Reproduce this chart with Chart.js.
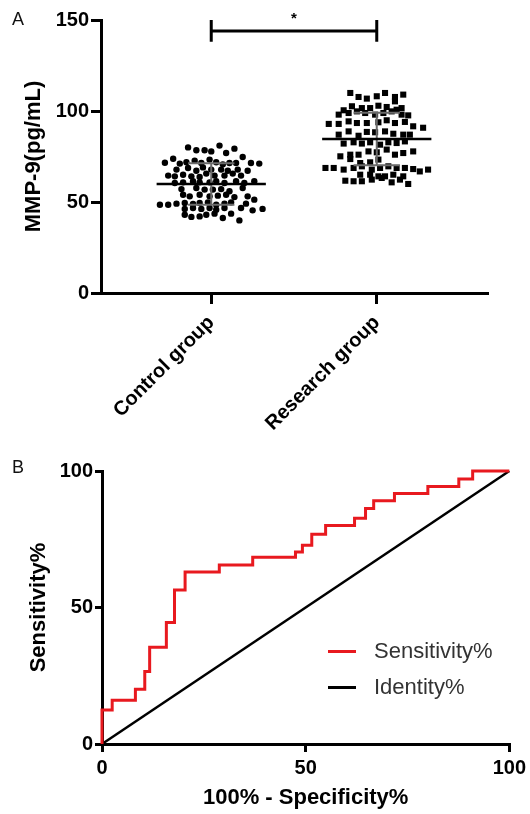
<!DOCTYPE html>
<html>
<head>
<meta charset="utf-8">
<script src="https://cdn.jsdelivr.net/npm/chart.js@4.4.1/dist/chart.umd.min.js"></script>
<style>
  html, body { margin: 0; padding: 0; background: #fff; }
  #wrap { position: relative; width: 530px; height: 814px; overflow: hidden; }
  .box { position: absolute; left: 0; width: 530px; }
  #boxA { top: 0; height: 450px; }
  #boxB { top: 450px; height: 364px; }
  .tag { position: absolute; font: 18px "Liberation Sans", Arial, sans-serif; color: #111; line-height: 1; }
  .leg { position: absolute; left: 328px; height: 26px; font: 22px "Liberation Sans", Arial, sans-serif; color: #333; }
  .leg i { position: absolute; left: 0; top: 12px; width: 28px; height: 3px; }
  .leg span { position: absolute; left: 46px; top: 0; line-height: 26px; white-space: nowrap; }
</style>
</head>
<body>
<div id="wrap">
  <div class="box" id="boxA"><canvas id="chartA"></canvas></div>
  <div class="box" id="boxB"><canvas id="chartB"></canvas></div>
  <div class="tag" style="left:12px;top:10px">A</div>
  <div class="tag" style="left:12px;top:458px">B</div>
  <div class="leg" style="top:638px"><i style="background:#e8191f"></i><span>Sensitivity%</span></div>
  <div class="leg" style="top:674px"><i style="background:#000"></i><span>Identity%</span></div>
</div>
<script>
// ---- panel A data: MMP-9 (pg/mL) per subject ----
var groupLabels = ['Control group', 'Research group'];
var yTicksA = [0, 50, 100, 150];

var controlValues = [
  80.0, 81.0, 79.3, 78.4, 78.4, 77.8, 76.9,
  73.8, 71.6, 71.1, 71.8, 72.7, 71.4, 73.3, 71.8, 70.7, 71.4, 71.4, 74.7, 71.4, 71.1,
  67.8, 68.7, 67.2, 69.0, 67.8, 67.8, 67.2, 67.8, 67.2,
  64.5, 64.1, 65.0, 64.1, 63.7, 65.6, 64.5, 64.5, 65.6, 64.5,
  60.4, 60.8, 61.4, 60.8, 60.8, 61.4, 60.4, 61.4, 60.4, 61.4,
  57.1, 57.7, 56.8, 56.8, 57.1, 55.9, 57.7,
  54.0, 53.1, 54.0, 53.1, 53.5, 54.0, 52.7, 53.1,
  48.5, 48.5, 49.1, 49.5, 48.9, 49.5, 49.8, 48.5, 49.1, 49.8, 49.1, 51.3,
  46.2, 46.7, 46.2, 46.7, 45.8, 46.7, 46.7, 45.4, 46.2,
  43.0, 41.8, 42.1, 43.0, 43.6, 41.2, 43.6, 39.9
];
// horizontal scatter of each dot around its group (category units)
var controlSpread = [
  -0.14, 0.05, 0.14, -0.09, -0.04, 0.00, 0.09,
  -0.23, -0.28, -0.19, -0.15, -0.10, -0.06, -0.01, 0.03, 0.07, 0.11, 0.15, 0.19, 0.24, 0.29,
  -0.21, -0.14, -0.09, -0.05, 0.00, 0.06, 0.10, 0.16, 0.22,
  -0.26, -0.22, -0.17, -0.12, -0.07, -0.03, 0.02, 0.08, 0.13, 0.18,
  -0.22, -0.17, -0.11, -0.07, -0.01, 0.03, 0.08, 0.15, 0.20, 0.26,
  -0.18, -0.09, -0.04, 0.01, 0.06, 0.11, 0.19,
  -0.17, -0.13, -0.07, -0.01, 0.04, 0.09, 0.14, 0.22,
  -0.31, -0.26, -0.21, -0.16, -0.11, -0.07, -0.02, 0.03, 0.08, 0.12, 0.21, 0.26,
  -0.16, -0.11, -0.06, -0.01, 0.03, 0.08, 0.18, 0.25, 0.31,
  -0.16, -0.12, -0.07, -0.03, 0.02, 0.07, 0.12, 0.17
];
var researchValues = [
  109.9, 107.7, 106.8, 108.1, 109.9, 107.7, 109.0, 105.3,
  100.4, 102.6, 101.6, 101.6, 102.9, 102.2, 100.7, 101.6,
  98.0, 98.9, 99.8, 98.9, 98.0, 98.9, 99.8, 98.0, 97.6,
  92.9, 92.9, 94.3, 93.4, 93.4, 93.8, 94.9, 93.4, 94.0, 91.6, 90.8,
  87.0, 88.8, 86.4, 88.5, 88.3, 88.8, 87.5, 87.0, 87.0,
  82.1, 82.8, 82.1, 82.8, 81.5, 82.8, 82.4, 83.3,
  76.0, 76.0, 77.8, 77.3, 78.8, 76.0, 76.9, 77.8,
  75.1, 73.6, 71.4, 71.8, 73.3,
  68.7, 68.7, 67.8, 68.7, 69.6, 67.8, 68.7, 69.6, 68.7, 68.7, 68.1, 66.8, 67.8,
  65.0, 65.0, 64.1, 64.1, 65.0, 64.1,
  61.7, 61.4, 61.4, 62.3, 63.2, 60.8, 62.3, 59.9
];
var researchSpread = [
  -0.16, -0.11, -0.06, 0.00, 0.05, 0.11, 0.16, 0.11,
  -0.20, -0.15, -0.09, -0.04, 0.01, 0.06, 0.12, 0.15,
  -0.23, -0.17, -0.12, -0.07, -0.01, 0.04, 0.09, 0.15, 0.19,
  -0.29, -0.23, -0.17, -0.12, -0.06, 0.01, 0.06, 0.11, 0.17, 0.22, 0.28,
  -0.23, -0.17, -0.11, -0.06, -0.01, 0.05, 0.10, 0.16, 0.20,
  -0.20, -0.14, -0.09, -0.04, 0.02, 0.07, 0.12, 0.17,
  -0.16, -0.11, -0.05, 0.00, 0.06, 0.11, 0.16, 0.22,
  -0.22, -0.16, -0.10, -0.04, 0.01,
  -0.31, -0.26, -0.20, -0.14, -0.09, -0.03, 0.02, 0.07, 0.12, 0.17, 0.22, 0.26, 0.31,
  -0.10, -0.04, 0.01, 0.05, 0.10, 0.16,
  -0.19, -0.14, -0.09, -0.03, 0.03, 0.09, 0.14, 0.19
];
var groupMeans = [59.9, 84.6];
var groupSD = [11.4, 14.4];
var sigBar = [144, 138, 150]; // bracket level, cap bottom, cap top

// ---- panel B data: ROC curve (jump points of the step curve) ----
var rocFpr  = [0, 0, 2.5, 8.2, 10.5, 11.7, 15.8, 17.8, 20.4, 28.8, 37.0, 47.5, 49.2, 51.5, 54.9, 62.0, 64.7, 66.7, 71.8, 80.0, 87.6, 91.0, 100];
var rocSens = [0, 12.5, 16.0, 20.1, 26.6, 35.4, 44.5, 56.4, 63.0, 65.6, 68.4, 70.3, 72.8, 76.8, 80.0, 82.7, 86.3, 89.1, 91.8, 94.3, 97.1, 100, 100];
var identityLine = [0, 100];
var ticksB = [0, 50, 100];

Chart.defaults.font.family = '"Liberation Sans", Arial, sans-serif';
Chart.defaults.color = '#000';

var MEAN_HALF = 0.33, CAP_HALF = 0.14;

function dots(center, spread, vals) {
  return vals.map(function (v, i) { return { x: center + spread[i], y: v }; });
}
function meanLine(center, m) {
  return [{ x: center - MEAN_HALF, y: m }, { x: center + MEAN_HALF, y: m }];
}
function sdBars(center, m, sd) {
  var hi = m + sd, lo = m - sd;
  return [
    { x: center - CAP_HALF, y: hi }, { x: center + CAP_HALF, y: hi }, { x: center, y: null },
    { x: center, y: hi }, { x: center, y: lo }, { x: center, y: null },
    { x: center - CAP_HALF, y: lo }, { x: center + CAP_HALF, y: lo }
  ];
}
function bracket() {
  return [
    { x: 1, y: sigBar[2] }, { x: 1, y: sigBar[1] }, { x: 1, y: null },
    { x: 1, y: sigBar[0] }, { x: 2, y: sigBar[0] }, { x: 2, y: null },
    { x: 2, y: sigBar[2] }, { x: 2, y: sigBar[1] }
  ];
}
function lineSet(data, color, width) {
  return { type: 'line', data: data, borderColor: color, borderWidth: width, pointRadius: 0,
           fill: false, spanGaps: false, clip: false, tension: 0 };
}

// the "*" above the bracket
var starPlugin = {
  id: 'star',
  afterDatasetsDraw: function (chart) {
    var x = chart.scales.x.getPixelForValue(1.5), y = chart.scales.y.getPixelForValue(153.3);
    var ctx = chart.ctx;
    ctx.save();
    ctx.font = 'bold 15px "Liberation Sans", Arial, sans-serif';
    ctx.fillStyle = '#000'; ctx.textAlign = 'center'; ctx.textBaseline = 'alphabetic';
    ctx.fillText('*', x, y + 9);
    ctx.restore();
  }
};

new Chart(document.getElementById('chartA'), {
  type: 'scatter',
  data: {
    datasets: [
      lineSet(meanLine(1, groupMeans[0]), '#000', 2.5),
      lineSet(meanLine(2, groupMeans[1]), '#000', 2.5),
      lineSet(sdBars(1, groupMeans[0], groupSD[0]), '#6b6b6b', 2),
      lineSet(sdBars(2, groupMeans[1], groupSD[1]), '#6b6b6b', 2),
      lineSet(bracket(), '#000', 3),
      { label: groupLabels[0], data: dots(1, controlSpread, controlValues), pointStyle: 'circle',
        pointRadius: 3.2, backgroundColor: '#000', borderWidth: 0 },
      { label: groupLabels[1], data: dots(2, researchSpread, researchValues), pointStyle: 'rect',
        pointRadius: 4.3, backgroundColor: '#000', borderWidth: 0 }
    ]
  },
  options: {
    responsive: true, maintainAspectRatio: false, animation: false,
    layout: { padding: { top: 20, right: 43, left: 0, bottom: 0 } },
    plugins: { legend: { display: false }, tooltip: { enabled: false } },
    scales: {
      x: {
        type: 'linear', min: 0.334, max: 2.666,
        afterBuildTicks: function (s) { s.ticks = groupLabels.map(function (_, i) { return { value: i + 1 }; }); },
        afterFit: function (s) { s.height = 157; },
        ticks: { callback: function (v) { return groupLabels[v - 1]; }, minRotation: 45, maxRotation: 45,
                 font: { size: 20, weight: 'bold' }, color: '#000', padding: 7 },
        grid: { drawOnChartArea: false, drawTicks: true, tickLength: 11, lineWidth: 3, color: '#000' },
        border: { display: true, width: 3, color: '#000' }
      },
      y: {
        min: 0, max: 150,
        afterBuildTicks: function (s) { s.ticks = yTicksA.map(function (v) { return { value: v }; }); },
        afterFit: function (s) { s.width = 101; },
        ticks: { font: { size: 20, weight: 'bold' }, color: '#000', padding: 2 },
        grid: { drawOnChartArea: false, drawTicks: true, tickLength: 10, lineWidth: 3, color: '#000' },
        border: { display: true, width: 3, color: '#000' },
        title: { display: true, text: 'MMP-9(pg/mL)', font: { size: 22, weight: 'bold' }, color: '#000',
                 padding: { top: 21, bottom: 0 } }
      }
    }
  },
  plugins: [starPlugin]
});

function xy(xs, ys) { return xs.map(function (x, i) { return { x: x, y: ys[i] }; }); }

new Chart(document.getElementById('chartB'), {
  type: 'line',
  data: {
    datasets: [
      // 'before': run flat to the next x, then jump up
      { label: 'Sensitivity%', data: xy(rocFpr, rocSens), stepped: 'before', borderColor: '#e8191f',
        borderWidth: 3, pointRadius: 0, fill: false, clip: false },
      { label: 'Identity%', data: xy(identityLine, identityLine), borderColor: '#000',
        borderWidth: 2.5, pointRadius: 0, fill: false, clip: false }
    ]
  },
  options: {
    responsive: true, maintainAspectRatio: false, animation: false,
    layout: { padding: { top: 21, right: 18, left: 0, bottom: 0 } },
    plugins: { legend: { display: false }, tooltip: { enabled: false } },
    scales: {
      x: {
        type: 'linear', min: 0, max: 100,
        afterBuildTicks: function (s) { s.ticks = ticksB.map(function (v) { return { value: v }; }); },
        afterFit: function (s) { s.height = 70; },
        ticks: { font: { size: 20, weight: 'bold' }, color: '#000', padding: 4, maxRotation: 0 },
        grid: { drawOnChartArea: false, drawTicks: true, tickLength: 8, lineWidth: 3, color: '#000' },
        border: { display: true, width: 3, color: '#000' },
        title: { display: true, text: '100% - Specificity%', font: { size: 22, weight: 'bold' }, color: '#000',
                 padding: { top: 0, bottom: 3 } }
      },
      y: {
        type: 'linear', min: 0, max: 100,
        afterBuildTicks: function (s) { s.ticks = ticksB.map(function (v) { return { value: v }; }); },
        afterFit: function (s) { s.width = 102; },
        ticks: { font: { size: 20, weight: 'bold' }, color: '#000', padding: 2 },
        grid: { drawOnChartArea: false, drawTicks: true, tickLength: 7, lineWidth: 3, color: '#000' },
        border: { display: true, width: 3, color: '#000' },
        title: { display: true, text: 'Sensitivity%', font: { size: 22, weight: 'bold' }, color: '#000',
                 padding: { top: 26, bottom: 0 } }
      }
    }
  }
});
</script>
</body>
</html>
